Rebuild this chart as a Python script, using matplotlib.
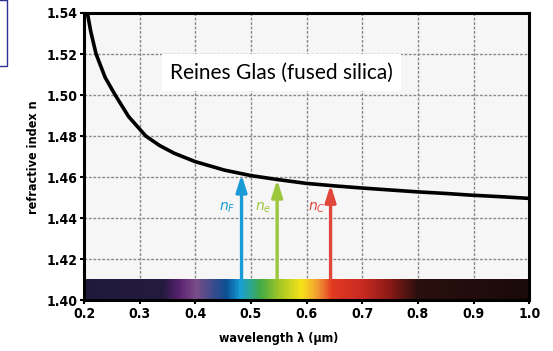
import matplotlib.pyplot as plt
from matplotlib.colors import LinearSegmentedColormap
from matplotlib.patches import Rectangle
import numpy as np

# dispersion curve of fused silica
wavelength = [0.206, 0.212, 0.2216, 0.238, 0.256, 0.280, 0.311, 0.335, 0.362, 0.400,
              0.452, 0.500, 0.550, 0.600, 0.650, 0.702, 0.750, 0.798, 0.850, 0.894,
              0.950, 1.000]
index_n = [1.540, 1.531, 1.520, 1.5085, 1.5000, 1.4895, 1.4800, 1.4755, 1.4716, 1.4675,
           1.4634, 1.4607, 1.4587, 1.4569, 1.4557, 1.4546, 1.4537, 1.4528, 1.4520, 1.4512,
           1.4504, 1.4496]

# Fraunhofer lines (arrows)
line_names = ['$n_F$', '$n_e$', '$n_C$']
line_wl = [0.483, 0.547, 0.643]
line_n = [1.4612, 1.4587, 1.4562]
line_colors = ['#1b9ad6', '#9cc63c', '#e0463a']

# spectrum bar colours
spec_pos = [0.2, 0.34, 0.37, 0.40, 0.43, 0.455, 0.48, 0.515, 0.55, 0.59, 0.62, 0.645,
            0.70, 0.75, 0.80, 1.0]
spec_col = ['#1f1a3c', '#241a40', '#5a2270', '#7a4c88', '#3c4c8c', '#0b4f94', '#1aa0d8',
            '#3eaa4a', '#a4c624', '#f6e41a', '#f29a32', '#e33a22', '#c82a22', '#8a1a16',
            '#2a100e', '#1a0a0a']

xticks = [0.2, 0.3, 0.4, 0.5, 0.6, 0.7, 0.8, 0.9, 1.0]
yticks = [1.40, 1.42, 1.44, 1.46, 1.48, 1.50, 1.52, 1.54]

fig = plt.figure(figsize=(5.53, 3.51), dpi=100)
ax = fig.add_axes([0.152, 0.145, 0.805, 0.818])
ax.set_facecolor('#f6f6f6')

# spectrum strip at the bottom
cmap = LinearSegmentedColormap.from_list(
    'spec', [((p - 0.2) / 0.8, c) for p, c in zip(spec_pos, spec_col)])
grad = np.linspace(0, 1, 400).reshape(1, -1)
ax.imshow(grad, cmap=cmap, aspect='auto', extent=[0.2, 1.0, 1.40, 1.4102], zorder=2)

ax.plot(wavelength, index_n, color='black', lw=2.6, zorder=4, solid_capstyle='round',
        solid_joinstyle='round')

for name, wl, n, c in zip(line_names, line_wl, line_n, line_colors):
    ax.annotate('', xy=(wl, n), xytext=(wl, 1.4102),
                arrowprops=dict(arrowstyle='-|>,head_length=1.0,head_width=0.32',
                                lw=2.4, color=c, shrinkA=0, shrinkB=0), zorder=3)
    ax.text(wl - 0.025, 1.4452, name, color=c, fontsize=10, fontweight='bold',
            ha='center', va='center', zorder=3)

ax.text(0.555, 1.511, 'Reines Glas (fused silica)', fontsize=15, family='Lato',
        ha='center', va='center', zorder=5,
        bbox=dict(facecolor='white', edgecolor='none', pad=6))

ax.set_xlim(0.2, 1.0)
ax.set_ylim(1.40, 1.54)
ax.set_xticks(xticks)
ax.set_yticks(yticks)
ax.set_xticklabels([f'{v:.1f}' for v in xticks])
ax.set_yticklabels([f'{v:.2f}' for v in yticks])
ax.grid(True, color='#8a8a8a', ls=(0, (2, 1.2)), lw=1.0, zorder=1)
ax.set_axisbelow(True)

for s in ax.spines.values():
    s.set_linewidth(2.2)
ax.tick_params(direction='out', length=3, width=1.5, pad=2)
for lab in ax.get_xticklabels() + ax.get_yticklabels():
    lab.set_fontweight('bold')
    lab.set_fontstretch('condensed')
    lab.set_fontsize(10)

ax.set_xlabel('wavelength λ (µm)', fontweight='bold', fontstretch='condensed', fontsize=9)
ax.set_ylabel('refractive index n', fontweight='bold', fontstretch='condensed', fontsize=9)
ax.xaxis.set_label_coords(0.438, -0.11)
ax.yaxis.set_label_coords(-0.10, 0.497)

# small box cut off at the top left corner
fig.patches.append(Rectangle((-0.01, 1 - 66 / 351), 0.01 + 7 / 553, 66 / 351,
                             transform=fig.transFigure, facecolor='white',
                             edgecolor='#303090', lw=1))

fig.savefig('out.png', dpi=100)
